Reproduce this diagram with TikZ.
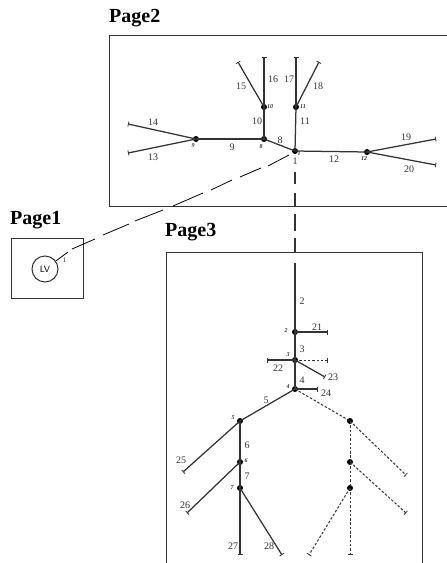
\documentclass[tikz,border=0pt]{standalone}
\usepackage{fontspec}
\setmainfont{Liberation Serif}
\usetikzlibrary{arrows.meta}
\definecolor{ink}{gray}{0.2}
\tikzset{
  frame/.style={draw=ink,line width=1pt},
  title/.style={font=\bfseries\fontsize{20}{20}\selectfont,text=black,inner sep=0pt},
  lab/.style={font=\fontsize{10}{10}\selectfont,text=ink,inner sep=0pt},
  idx/.style={font=\itshape\bfseries\fontsize{6}{6}\selectfont,text=ink,inner sep=0pt},
  dot/.style={circle,fill=black,inner sep=0pt,minimum size=6pt},
  br/.style={draw=ink,line width=1.25pt},
  tip/.style={br,-{Bar[width=5pt,line width=.8pt]}},
  dtip/.style={draw=ink,line width=1pt,dash pattern=on 2.5pt off 1.8pt,-{Bar[width=5pt,line width=.8pt]}},
  dbr/.style={draw=ink,line width=1pt,dash pattern=on 2.5pt off 1.8pt},
  conn/.style={draw=black,line width=.8pt},
  vconn/.style={draw=ink,line width=1.1pt}
}
\begin{document}
\begin{tikzpicture}[x=1pt,y=-1pt]
\useasboundingbox (0,0) rectangle (447,563);
\fill[white] (0,0) rectangle (447,563);
% titles
\node[title,anchor=west] (t2) at (109,18) {Page2};
\node[title,anchor=west] (t1) at (10,220) {Page1};
\node[title,anchor=west] (t3) at (165,232) {Page3};
% frames
\draw[frame] (447,35) -- (109,35) -- (109,206) -- (447,206);
\draw[frame] (11,238) rectangle (83,298);
\draw[frame] (166,563) -- (166,252) -- (422,252) -- (422,563);
% page 1
\node[circle,draw=ink,line width=1pt,minimum size=26pt,inner sep=0pt,font=\sffamily\fontsize{9}{9}\selectfont] (lv) at (45,269) {LV};
\coordinate (a1) at (68,252);
\draw[conn] (lv) -- (a1);
\node[lab,font=\fontsize{7}{7}\selectfont] (one) at (64.5,260) {1};
\coordinate (b1) at (72,249); \coordinate (b2) at (95,239);
\coordinate (c1) at (103,235); \coordinate (c2) at (129,224);
\coordinate (d1) at (135,221); \coordinate (d2) at (163,210);
\coordinate (e1) at (173,206); \coordinate (e2) at (203,193);
\coordinate (f1) at (211,190); \coordinate (f2) at (232,180);
\coordinate (g1) at (240,177); \coordinate (g2) at (261,168);
\coordinate (h1) at (268,166); \coordinate (h2) at (289,155);
\foreach \p/\q in {b1/b2,c1/c2,d1/d2,e1/e2,f1/f2,g1/g2,h1/h2} \draw[conn] (\p) -- (\q);
% vertical link
\coordinate (v1) at (295,172); \coordinate (v2) at (295,184);
\coordinate (v3) at (295,193); \coordinate (v4) at (295,206);
\coordinate (v5) at (295,214); \coordinate (v6) at (295,231);
\coordinate (v7) at (295,238); \coordinate (v8) at (295,253);
\foreach \p/\q in {v1/v2,v3/v4,v5/v6,v7/v8} \draw[vconn] (\p) -- (\q);
% page 2 nodes
\node[dot] (n1) at (295,151) {};
\node[dot] (n8) at (264,139) {};
\node[dot] (n9) at (196,139) {};
\node[dot] (n10) at (264,107) {};
\node[dot] (n11) at (296,107) {};
\node[dot] (n12) at (367,152) {};
\coordinate (e13) at (128,153); \coordinate (e14) at (128,124);
\coordinate (e15) at (238,62);  \coordinate (e16) at (264,57);
\coordinate (e17) at (296,57);  \coordinate (e18) at (319,62);
\coordinate (e19) at (436,139); \coordinate (e20) at (436,165);
\draw[br] (n1.center) -- (n8.center);
\draw[br] (n8.center) -- (n9.center);
\draw[br] (n8.center) -- (n10.center);
\draw[br] (n1.center) -- (n11.center);
\draw[br] (n1.center) -- (n12.center);
\draw[tip] (n9.center) -- (e13);
\draw[tip] (n9.center) -- (e14);
\draw[tip] (n10.center) -- (e15);
\draw[tip] (n10.center) -- (e16);
\draw[tip] (n11.center) -- (e17);
\draw[tip] (n11.center) -- (e18);
\draw[tip] (n12.center) -- (e19);
\draw[tip] (n12.center) -- (e20);
% page 2 labels
\foreach \t/\x/\y in {14/153/122,13/153/157,9/232/147,10/257/121,8/280/140,11/305/121,12/334/159,15/241/86,16/273/79,17/289/79,18/318/86,19/406/137,20/409/169,1/295/161}
  \node[lab] at (\x,\y) {\t};
\foreach \t/\x/\y in {9/193/146,8/261/147,10/270/107,11/303/107,12/364/159,1/299/154}
  \node[idx] at (\x,\y) {\t};
% page 3 nodes
\coordinate (top) at (295,263);
\node[dot] (p2) at (295,332) {};
\node[dot] (p3) at (295,360) {};
\node[dot] (p4) at (295,389) {};
\node[dot] (p5) at (240,421) {};
\node[dot] (p6) at (240,462) {};
\node[dot] (p7) at (240,488) {};
\node[dot] (q5) at (350,421) {};
\node[dot] (q6) at (350,462) {};
\node[dot] (q7) at (350,488) {};
\coordinate (e21) at (328,332); \coordinate (e22) at (267,360);
\coordinate (e22d) at (328,360); \coordinate (e23) at (325,377);
\coordinate (e24) at (318,389); \coordinate (e25) at (183,472);
\coordinate (e26) at (187,513); \coordinate (e27) at (240,555);
\coordinate (e28) at (282,555); \coordinate (f25) at (406,475);
\coordinate (f26) at (406,513); \coordinate (f27) at (309,555);
\coordinate (f28) at (350,555);
\draw[br] (top) -- (p2.center);
\draw[br] (p2.center) -- (p3.center);
\draw[br] (p3.center) -- (p4.center);
\draw[br] (p4.center) -- (p5.center);
\draw[br] (p5.center) -- (p6.center);
\draw[br] (p6.center) -- (p7.center);
\draw[tip] (p2.center) -- (e21);
\draw[tip] (p3.center) -- (e22);
\draw[tip] (p3.center) -- (e23);
\draw[tip] (p4.center) -- (e24);
\draw[tip] (p5.center) -- (e25);
\draw[tip] (p6.center) -- (e26);
\draw[tip] (p7.center) -- (e27);
\draw[tip] (p7.center) -- (e28);
\draw[dtip] (p3.center) -- (e22d);
\draw[dbr] (p4.center) -- (q5.center);
\draw[dbr] (q5.center) -- (q6.center);
\draw[dbr] (q6.center) -- (q7.center);
\draw[dtip] (q5.center) -- (f25);
\draw[dtip] (q6.center) -- (f26);
\draw[dtip] (q7.center) -- (f27);
\draw[dtip] (q7.center) -- (f28);
% page 3 labels
\foreach \t/\x/\y in {2/302/301,21/317/327,3/302/349,22/278/368,23/333/377,4/302/380,24/326/393,5/266/400,6/247/445,7/247/476,25/181/460,26/185/505,27/233/546,28/269/546}
  \node[lab] at (\x,\y) {\t};
\foreach \t/\x/\y in {2/286/331,3/288/355,4/288/387,5/233/418,6/246/461,7/232/488}
  \node[idx] at (\x,\y) {\t};
\end{tikzpicture}
\end{document}
